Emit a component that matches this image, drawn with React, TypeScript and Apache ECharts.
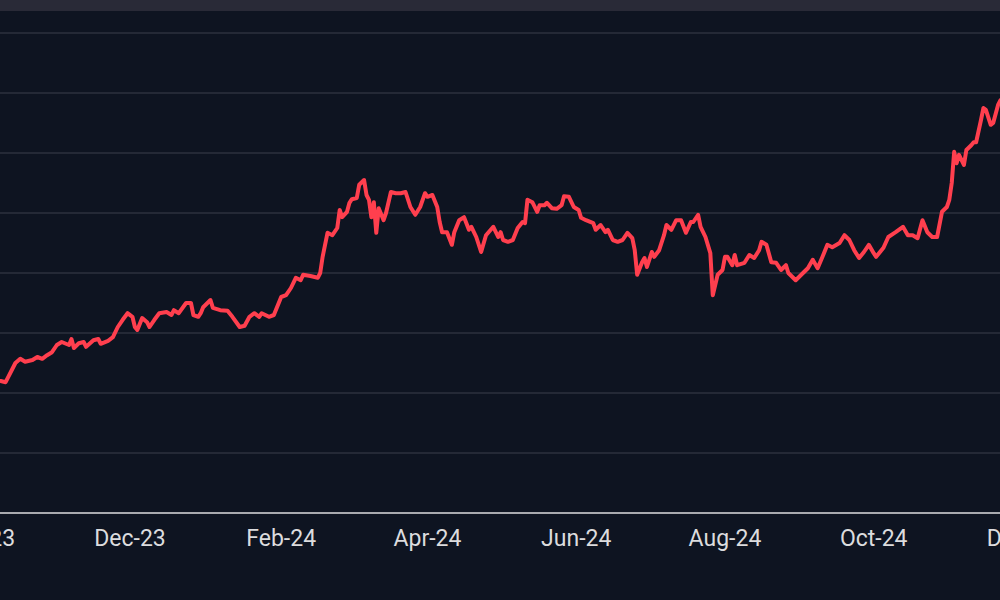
import React, { useEffect, useRef } from "react";
import * as echarts from "echarts";

const dates = [
  "2023-10-09","2023-10-11","2023-10-15","2023-10-17","2023-10-19","2023-10-22","2023-10-24","2023-10-26","2023-10-28","2023-10-30",
  "2023-11-01","2023-11-03","2023-11-06","2023-11-07","2023-11-08","2023-11-10","2023-11-12","2023-11-13","2023-11-16","2023-11-18",
  "2023-11-19","2023-11-22","2023-11-24","2023-11-26","2023-11-28","2023-11-30","2023-12-02","2023-12-03","2023-12-04","2023-12-06",
  "2023-12-08","2023-12-09","2023-12-11","2023-12-13","2023-12-16","2023-12-18","2023-12-19","2023-12-21","2023-12-24","2023-12-26",
  "2023-12-27","2023-12-29","2023-12-30","2023-12-31","2024-01-03","2024-01-04","2024-01-07","2024-01-10","2024-01-12","2024-01-15",
  "2024-01-17","2024-01-19","2024-01-21","2024-01-23","2024-01-24","2024-01-27","2024-01-29","2024-02-01","2024-02-03","2024-02-05",
  "2024-02-07","2024-02-09","2024-02-10","2024-02-13","2024-02-16","2024-02-17","2024-02-18","2024-02-20","2024-02-22","2024-02-24",
  "2024-02-25","2024-02-26","2024-02-28","2024-02-29","2024-03-01","2024-03-03","2024-03-04","2024-03-06","2024-03-07","2024-03-08",
  "2024-03-09","2024-03-10","2024-03-11","2024-03-12","2024-03-14","2024-03-15","2024-03-17","2024-03-19","2024-03-21","2024-03-23",
  "2024-03-25","2024-03-27","2024-03-29","2024-03-31","2024-04-01","2024-04-03","2024-04-05","2024-04-06","2024-04-07","2024-04-09",
  "2024-04-11","2024-04-12","2024-04-14","2024-04-16","2024-04-18","2024-04-19","2024-04-21","2024-04-23","2024-04-25","2024-04-28",
  "2024-04-30","2024-05-01","2024-05-02","2024-05-04","2024-05-06","2024-05-08","2024-05-10","2024-05-11","2024-05-12","2024-05-14",
  "2024-05-16","2024-05-17","2024-05-19","2024-05-20","2024-05-22","2024-05-24","2024-05-26","2024-05-27","2024-05-29","2024-05-31",
  "2024-06-02","2024-06-03","2024-06-05","2024-06-08","2024-06-09","2024-06-11","2024-06-13","2024-06-14","2024-06-16","2024-06-18",
  "2024-06-20","2024-06-22","2024-06-24","2024-06-25","2024-06-26","2024-06-28","2024-06-29","2024-06-30","2024-07-02","2024-07-03",
  "2024-07-05","2024-07-07","2024-07-08","2024-07-10","2024-07-12","2024-07-14","2024-07-16","2024-07-18","2024-07-19","2024-07-21",
  "2024-07-22","2024-07-24","2024-07-26","2024-07-27","2024-07-29","2024-07-31","2024-08-01","2024-08-02","2024-08-04","2024-08-05",
  "2024-08-06","2024-08-09","2024-08-11","2024-08-13","2024-08-15","2024-08-16","2024-08-18","2024-08-20","2024-08-22","2024-08-24",
  "2024-08-26","2024-08-27","2024-08-30","2024-09-02","2024-09-04","2024-09-06","2024-09-08","2024-09-10","2024-09-12","2024-09-14",
  "2024-09-17","2024-09-19","2024-09-21","2024-09-23","2024-09-25","2024-09-27","2024-09-29","2024-10-01","2024-10-02","2024-10-05",
  "2024-10-07","2024-10-10","2024-10-13","2024-10-15","2024-10-17","2024-10-19","2024-10-21","2024-10-23","2024-10-25","2024-10-27",
  "2024-10-29","2024-10-31","2024-11-01","2024-11-02","2024-11-03","2024-11-04","2024-11-05","2024-11-07","2024-11-08","2024-11-10",
  "2024-11-11","2024-11-12","2024-11-14","2024-11-15","2024-11-16","2024-11-18","2024-11-19","2024-11-21","2024-11-22",
];

const values = [
  42.0, 41.8, 45.0, 45.7, 45.2, 45.5, 46.0, 45.7, 46.3, 46.8,
  48.0, 48.5, 48.0, 49.0, 47.5, 48.3, 48.5, 47.7, 48.8, 49.0,
  48.2, 48.7, 49.3, 51.0, 52.2, 53.3, 52.7, 51.0, 50.5, 52.5,
  51.8, 51.0, 52.2, 53.3, 53.5, 53.0, 53.8, 53.3, 55.0, 55.0,
  53.0, 52.7, 53.3, 54.3, 55.5, 54.2, 53.8, 53.7, 52.7, 51.0,
  51.2, 52.7, 53.3, 52.7, 53.3, 52.7, 53.0, 56.0, 56.3, 57.5,
  59.2, 58.8, 59.7, 59.5, 59.2, 60.0, 62.7, 66.7, 66.3, 67.5,
  70.5, 69.3, 70.2, 71.7, 72.3, 72.5, 74.7, 75.5, 73.0, 72.2,
  69.3, 71.8, 66.7, 70.8, 68.8, 70.0, 73.5, 73.3, 73.3, 73.5,
  71.0, 69.7, 71.0, 73.3, 72.7, 73.0, 71.0, 68.5, 66.8, 66.8,
  64.7, 66.8, 68.8, 69.3, 67.2, 67.7, 66.0, 63.5, 66.3, 67.7,
  66.0, 66.8, 65.5, 65.2, 65.5, 67.5, 68.5, 68.3, 72.2, 71.8,
  70.2, 71.3, 71.3, 71.7, 70.8, 70.7, 71.3, 72.8, 72.7, 71.0,
  70.5, 69.2, 68.8, 68.3, 67.2, 68.0, 66.8, 67.2, 65.5, 65.2,
  65.5, 66.7, 65.8, 63.8, 59.7, 61.8, 62.5, 61.0, 63.5, 62.7,
  63.8, 66.3, 68.0, 67.2, 68.8, 68.8, 66.7, 68.5, 68.5, 69.7,
  67.7, 66.0, 63.3, 56.3, 59.7, 60.5, 62.7, 62.7, 61.3, 63.0,
  61.3, 61.7, 63.0, 62.5, 63.8, 65.2, 64.7, 61.8, 61.7, 60.5,
  61.3, 60.0, 58.8, 60.0, 60.8, 62.2, 60.8, 62.7, 64.7, 64.3,
  65.0, 66.3, 65.5, 63.8, 62.5, 63.5, 64.7, 63.3, 62.7, 64.2,
  66.0, 66.8, 67.7, 66.3, 66.3, 65.8, 68.8, 66.8, 66.0, 66.0,
  70.2, 71.0, 72.2, 75.0, 80.2, 78.3, 79.7, 78.0, 80.5, 81.3,
  81.8, 81.8, 85.5, 87.5, 87.2, 84.7, 85.0, 88.0, 88.8,
];

const labelDates = [
  "2023-10-01","2023-12-01","2024-02-01","2024-04-01","2024-06-01","2024-08-01","2024-10-01","2024-12-01",
];
const monthNames = ["Jan","Feb","Mar","Apr","May","Jun","Jul","Aug","Sep","Oct","Nov","Dec"];
const axisStart = "2023-09-01";
const axisEnd = "2024-12-31";
const yMin = 20;
const yMax = 100;
const yStep = 10;

function toTime(s: string): number {
  const [y, m, d] = s.split("-").map(Number);
  return new Date(y, m - 1, d).getTime();
}

export default function App() {
  const ref = useRef<HTMLDivElement>(null);
  useEffect(() => {
    if (!ref.current) return;
    const chart = echarts.init(ref.current, null, { renderer: "svg" });
    chart.setOption({
      animation: false,
      backgroundColor: "transparent",
      grid: { left: 8.1, top: 33, width: 1187.5, height: 480 },
      xAxis: {
        type: "value",
        min: toTime(axisStart),
        max: toTime(axisEnd),
        axisLine: { show: true, lineStyle: { color: "#d6d6d8", width: 1.5 } },
        axisTick: { show: false },
        splitLine: { show: false },
        axisLabel: {
          customValues: labelDates.map(toTime),
          hideOverlap: false,
          formatter: (v: number) => {
            const dt = new Date(v);
            return `${monthNames[dt.getMonth()]}-${String(dt.getFullYear()).slice(2)}`;
          },
          color: "#dcdcde",
          fontSize: 23,
          fontFamily: "Roboto",
          margin: 14,
        },
      },
      yAxis: {
        type: "value",
        min: yMin,
        max: yMax,
        interval: yStep,
        axisLine: { show: false },
        axisTick: { show: false },
        axisLabel: { show: false },
        splitLine: { show: true, lineStyle: { color: "#2d313e", width: 1.5 } },
      },
      series: [
        {
          type: "line",
          data: dates.map((d, i) => [toTime(d), values[i]]),
          showSymbol: false,
          symbol: "none",
          lineStyle: { color: "#ff3f4e", width: 4, join: "round", cap: "round" },
          z: 3,
        },
      ],
    });
    return () => chart.dispose();
  }, []);
  return (
    <div style={{ position: "fixed", left: 0, top: 0, width: 1000, height: 600, overflow: "hidden", background: "#0e1421" }}>
      <div ref={ref} style={{ position: "absolute", left: -100, top: 0, width: 1300, height: 600 }} />
      <div style={{ position: "absolute", left: 0, top: 0, width: 1000, height: 11, background: "#292a37" }} />
    </div>
  );
}
